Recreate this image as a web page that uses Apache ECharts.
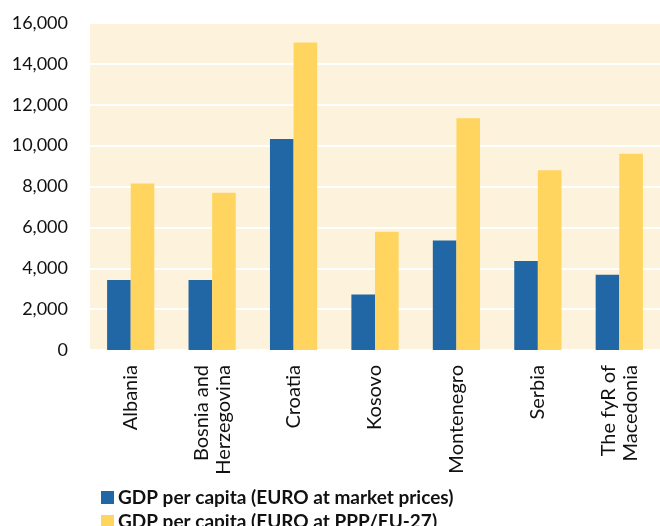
<!DOCTYPE html>
<html>
<head>
<meta charset="utf-8">
<script src="https://cdn.jsdelivr.net/npm/echarts@6/dist/echarts.min.js"></script>
<style>
  html, body { margin: 0; padding: 0; background: #ffffff; }
  #chart { width: 660px; height: 526px; }
</style>
</head>
<body>
<div id="chart"></div>
<script>
// Western Balkans: GDP per capita, EUR
const countries = ['Albania', 'Bosnia and\nHerzegovina', 'Croatia', 'Kosovo', 'Montenegro', 'Serbia', 'The fyR of\nMacedonia'];
const gdpMarket = [3420, 3420, 10320, 2720, 5360, 4350, 3680];
const gdpPPP = [8150, 7690, 15050, 5790, 11340, 8800, 9600];
const seriesNames = ['GDP per capita (EURO at market prices)', 'GDP per capita (EURO at PPP/EU-27)'];
const yTicks = { min: 0, max: 16000, interval: 2000 };

const FONT = 'Lato, "Open Sans", sans-serif';
const chart = echarts.init(document.getElementById('chart'), null, { renderer: 'canvas' });

// one legend box per row so the two entries stack
const legendRow = (name, top) => ({
  orient: 'horizontal',
  left: 96, top: top,
  itemWidth: 13, itemHeight: 13, itemGap: 0,
  icon: 'rect',
  textStyle: { fontFamily: FONT, fontSize: 19, fontWeight: 'bold', color: '#111', padding: [0, 0, 0, -1] },
  data: [name]
});

chart.setOption({
  animation: false,
  textStyle: { fontFamily: FONT },
  grid: {
    left: 90, right: 0, top: 23, bottom: 176,
    show: true, backgroundColor: '#FDF3DC', borderWidth: 0
  },
  legend: [legendRow(seriesNames[0], 483), legendRow(seriesNames[1], 507)],
  xAxis: {
    type: 'category',
    data: countries,
    axisLine: { show: false },
    axisTick: { show: false },
    axisLabel: {
      rotate: 90, margin: 15, interval: 0,
      fontSize: 20, color: '#111', lineHeight: 22, fontFamily: FONT
    }
  },
  yAxis: {
    type: 'value',
    min: yTicks.min, max: yTicks.max, interval: yTicks.interval,
    axisLine: { show: false },
    axisTick: { show: false },
    splitLine: { lineStyle: { color: '#ffffff', width: 2 } },
    axisLabel: {
      margin: 22, fontSize: 18, color: '#111', fontFamily: FONT,
      formatter: v => v.toLocaleString('en-US')
    }
  },
  series: [
    {
      name: seriesNames[0], type: 'bar', data: gdpMarket,
      barGap: '0%', barCategoryGap: '42%',
      itemStyle: { color: '#2166A5' }
    },
    {
      name: seriesNames[1], type: 'bar', data: gdpPPP,
      itemStyle: { color: '#FFD55F' }
    }
  ]
});
</script>
</body>
</html>
